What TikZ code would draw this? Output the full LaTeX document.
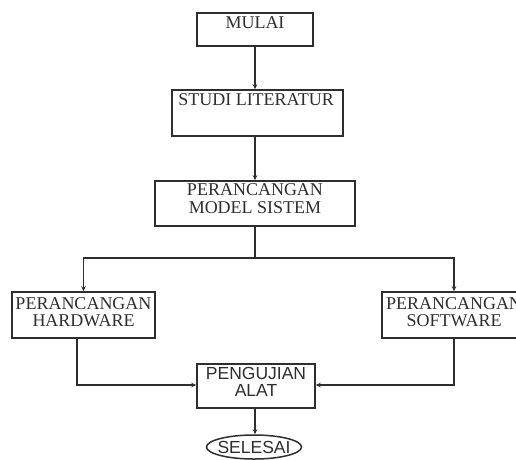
\documentclass[tikz,border=0pt]{standalone}
\usepackage{fontspec}
\setmainfont{Liberation Serif}
\setsansfont{Liberation Sans}
\usetikzlibrary{arrows.meta,shapes.geometric}
\definecolor{ink}{HTML}{2E2E2E}
\tikzset{
  boxnode/.style={draw=ink, line width=1.5pt, rectangle, inner sep=0pt},
  txt/.style={text=ink, align=center, inner sep=0pt, font=\fontsize{18}{17.5}\selectfont},
  stxt/.style={text=ink, align=center, inner sep=0pt, font=\sffamily\fontsize{17.5}{17}\selectfont},
  conn/.style={draw=ink, line width=1.5pt},
  arr/.style={conn, -{Stealth[length=5pt,width=4.5pt]}}
}
\begin{document}
\begin{tikzpicture}[x=1pt,y=-1pt]
\useasboundingbox (0,0) rectangle (516,459);
\clip (0,0) rectangle (516,459);
% boxes
\node[boxnode, minimum width=116pt, minimum height=33pt] (mulai) at (255,29.5) {};
\node[boxnode, minimum width=171pt, minimum height=46pt] (studi) at (257.5,113) {};
\node[boxnode, minimum width=200pt, minimum height=45pt] (model) at (255,203.5) {};
\node[boxnode, minimum width=143pt, minimum height=46pt] (hw) at (83.5,315) {};
\node[boxnode, minimum width=144pt, minimum height=46pt] (sw) at (454,315) {};
\node[boxnode, minimum width=118pt, minimum height=44pt] (uji) at (256,386) {};
\node[draw=ink, line width=1.5pt, ellipse, minimum width=95pt, minimum height=24pt, inner sep=0pt] (selesai) at (254,447) {};
% texts
\node[txt] (mulaiT) at (255,23) {MULAI};
\node[txt] (studiT) at (256,100) {STUDI LITERATUR};
\node[txt] (modelT) at (255,198.5) {PERANCANGAN\\MODEL SISTEM};
\node[txt] (hwT) at (83.5,312) {PERANCANGAN\\HARDWARE};
\node[txt] (swT) at (454,312) {PERANCANGAN\\SOFTWARE};
\node[stxt] (ujiT) at (256,381.5) {PENGUJIAN\\ALAT};
\node[stxt] (selesaiT) at (254,447) {SELESAI};
% connectors
\coordinate (split) at (255,258);
\draw[arr] (mulai.south) -- (studi.north -| mulai.south);
\draw[arr] (studi.south -| mulai.south) -- (model.north -| mulai.south);
\draw[conn] (model.south -| split) -- (split);
\draw[arr] (split) -| (hw.north);
\draw[arr] (split) -| (sw.north);
\coordinate (hwout) at (77,338);
\coordinate (hwturn) at (77,385);
\coordinate (swturn) at (454,385);
\draw[arr] (hwout) -- (hwturn) -- (uji.west |- hwturn);
\draw[arr] (sw.south) -- (swturn) -- (uji.east |- swturn);
\draw[arr] (uji.south -| mulai.south) -- (selesai.north -| mulai.south);
\end{tikzpicture}
\end{document}
